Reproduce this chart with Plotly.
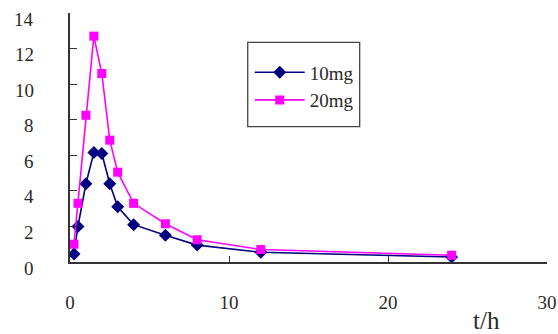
import plotly.graph_objects as go

t_hours = [0.25, 0.5, 1, 1.5, 2, 2.5, 3, 4, 6, 8, 12, 24]
conc_10mg = [0.45, 2.0, 4.4, 6.15, 6.1, 4.4, 3.1, 2.1, 1.5, 0.95, 0.55, 0.28]
conc_20mg = [1.0, 3.3, 8.25, 12.7, 10.6, 6.85, 5.05, 3.3, 2.15, 1.25, 0.7, 0.38]
series_names = ["10mg", "20mg"]
x_ticks = [0, 10, 20, 30]
y_ticks = [0, 2, 4, 6, 8, 10, 12, 14]
x_title = "t/h"

FONT = "Liberation Serif"
TXT = "#2a2a2a"

fig = go.Figure()
fig.add_trace(go.Scatter(
    x=t_hours, y=conc_10mg, name=series_names[0], mode="lines+markers",
    line=dict(color="#000080", width=1.6),
    marker=dict(symbol="diamond", size=10, color="#000080"),
))
fig.add_trace(go.Scatter(
    x=t_hours, y=conc_20mg, name=series_names[1], mode="lines+markers",
    line=dict(color="#FF00FF", width=1.6),
    marker=dict(symbol="square", size=9, color="#FF00FF"),
))

annotations = []
for v in y_ticks:
    annotations.append(dict(
        x=0, xref="paper", y=v, yref="y", text=str(v), showarrow=False,
        xanchor="right", yanchor="middle", xshift=-34, yshift=-6,
        font=dict(family=FONT, size=19, color=TXT),
    ))
annotations.append(dict(
    x=26.2, xref="x", y=0, yref="paper", text=x_title, showarrow=False,
    xanchor="center", yanchor="middle", yshift=-58,
    font=dict(family=FONT, size=25, color=TXT),
))

fig.update_layout(
    width=558, height=334,
    margin=dict(l=69.5, r=11.3, t=13.3, b=72.3, autoexpand=False),
    paper_bgcolor="white", plot_bgcolor="white",
    showlegend=True,
    legend=dict(
        x=0.3768, y=0.838, xanchor="left", yanchor="top",
        borderwidth=0, bgcolor="rgba(0,0,0,0)",
        font=dict(family=FONT, size=19, color=TXT),
        itemwidth=50, tracegroupgap=0,
    ),
    shapes=[dict(
        type="rect", xref="paper", yref="paper",
        x0=0.3726, x1=0.6073, y0=0.5435, y1=0.8817,
        line=dict(color="#444", width=1.3), fillcolor="rgba(0,0,0,0)", layer="below",
    )],
    annotations=annotations,
)
fig.update_xaxes(
    range=[0, 30], tickvals=x_ticks, ticktext=[str(v) for v in x_ticks],
    showgrid=False, zeroline=False, showline=True, linecolor="#333", linewidth=1.5,
    ticks="inside", ticklen=6, tickcolor="#333", tickwidth=1.2,
    ticklabelstandoff=22, automargin=False,
    tickfont=dict(family=FONT, size=19, color=TXT),
)
fig.update_yaxes(
    range=[0, 14], tickvals=y_ticks, showticklabels=False,
    showgrid=False, zeroline=False, showline=True, linecolor="#333", linewidth=1.5,
    ticks="inside", ticklen=7, tickcolor="#333", tickwidth=1.2, automargin=False,
)
fig.write_html(
    "out.html",
    config={"displayModeBar": False},
    post_script="document.body.style.margin='0';document.body.style.overflow='hidden';",
)
